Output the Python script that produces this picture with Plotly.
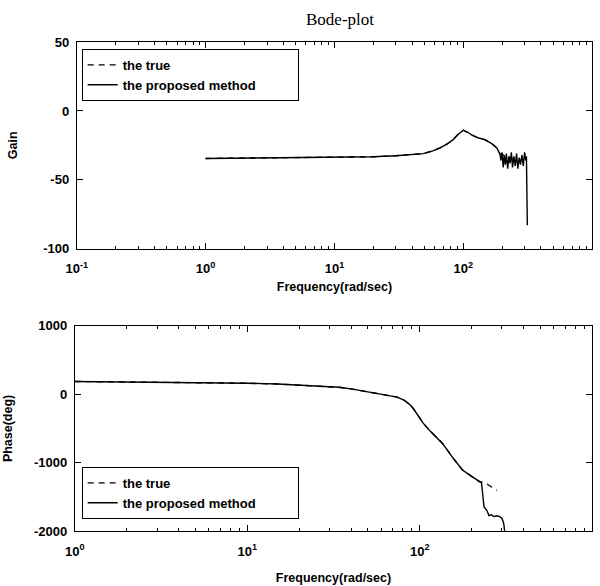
import plotly.graph_objects as go

# ---------------- data ----------------
gain_freq = [1, 2, 5, 10, 20, 30, 40, 49, 58, 66, 75, 83, 90, 100, 108, 117, 130, 148, 165, 182, 192,
             196, 200, 204, 208, 212, 216, 221, 226, 231, 236, 241, 247, 253, 259, 265, 271, 278, 285,
             292, 299, 305, 309, 312, 314]
gain_proposed = [-34.5, -34.3, -34.0, -33.8, -33.3, -32.5, -31.8, -31.0, -29.0, -26.8, -24.0, -21.0, -17.5,
                 -14.0, -15.5, -17.6, -19.5, -21.0, -23.5, -26.8, -31.0,
                 -36, -30, -41, -32, -39, -31, -42, -33, -38, -30, -41, -33, -40, -31, -42, -34, -39, -32,
                 -40, -30, -36, -33, -60, -83]
gain_true_freq = [1, 2, 5, 10, 20, 30, 40, 49, 58, 66, 75, 83, 90, 100, 108, 117, 130, 148, 165, 182, 192,
                  230, 280]
gain_true = [-34.5, -34.3, -34.0, -33.8, -33.3, -32.5, -31.8, -31.0, -29.0, -26.8, -24.0, -21.0, -17.5,
             -14.0, -15.5, -17.6, -19.5, -21.0, -23.5, -26.8, -31.0, -34.0, -36.0]

phase_freq = [1, 2, 5, 10, 15, 22, 30, 34, 40, 48, 55, 62, 74, 81, 88, 92, 98, 105, 115, 125, 136, 155,
              177, 202, 221, 228, 232, 236, 246, 252, 260, 270, 280, 291, 300, 307, 311, 313]
phase_proposed = [185, 180, 172, 160, 148, 128, 108, 100, 78, 43, 22, 2, -43, -85, -156, -213, -320, -426,
                  -539, -630, -723, -922, -1106, -1206, -1277, -1290, -1460, -1645, -1702, -1773, -1760,
                  -1785, -1775, -1787, -1810, -1887, -2000, -2050]
phase_true_freq = [1, 2, 5, 10, 15, 22, 30, 34, 40, 48, 55, 62, 74, 81, 88, 92, 98, 105, 115, 125, 136,
                   155, 177, 202, 221, 239, 262, 280]
phase_true = [185, 180, 172, 160, 148, 128, 108, 100, 78, 43, 22, 2, -43, -85, -156, -213, -320, -426,
              -539, -630, -723, -922, -1106, -1206, -1277, -1291, -1362, -1404]

top_x_ticks = [0.1, 1, 10, 100, 1000]
top_x_text = ["10<sup>-1</sup>", "10<sup>0</sup>", "10<sup>1</sup>", "10<sup>2</sup>", "10<sup>3</sup>"]
bot_x_ticks = [1, 10, 100, 1000]
bot_x_text = ["10<sup>0</sup>", "10<sup>1</sup>", "10<sup>2</sup>", "10<sup>3</sup>"]
gain_ticks = [50, 0, -50, -100]
gain_text = ["50", "0", "-50", "-100"]
phase_ticks = [1000, 0, -1000, -2000]
phase_text = ["1000", "0", "-1000", "-2000"]
legend_names = ["the true", "the proposed method"]

W, H = 600, 586
FONT = "Liberation Sans"
PAD = "\u00a0" * 10


def minor_vals(lo, hi):
    vals = []
    for e in range(lo, hi):
        for m in range(2, 10):
            vals.append(m * 10 ** e)
    return vals


fig = go.Figure()
line_w = 1.4
fig.add_trace(go.Scatter(x=gain_true_freq, y=gain_true, mode="lines", name=legend_names[0],
                         line=dict(color="black", width=line_w, dash="6px,5px"),
                         xaxis="x", yaxis="y", legend="legend"))
fig.add_trace(go.Scatter(x=gain_freq, y=gain_proposed, mode="lines", name=legend_names[1] + PAD,
                         line=dict(color="black", width=line_w),
                         xaxis="x", yaxis="y", legend="legend"))
fig.add_trace(go.Scatter(x=phase_true_freq, y=phase_true, mode="lines", name=legend_names[0],
                         line=dict(color="black", width=line_w, dash="6px,5px"),
                         xaxis="x2", yaxis="y2", legend="legend2"))
fig.add_trace(go.Scatter(x=phase_freq, y=phase_proposed, mode="lines", name=legend_names[1] + PAD,
                         line=dict(color="black", width=line_w),
                         xaxis="x2", yaxis="y2", legend="legend2"))

tickfont = dict(family=FONT, size=13, color="black", weight="bold")
titlefont = dict(family=FONT, size=12.5, color="black", weight="bold")

common_axis = dict(showgrid=False, zeroline=False, showline=True, linecolor="black", linewidth=1,
                   mirror="ticks", ticks="inside", ticklen=6, tickcolor="black", tickwidth=1,
                   tickfont=tickfont)


def px_x(a, b):
    return [a / W, b / W]


def px_y(top, bottom):
    return [1 - bottom / H, 1 - top / H]


legend_common = dict(xanchor="left", yanchor="top",
                     bordercolor="black", borderwidth=1, bgcolor="white",
                     font=dict(family=FONT, size=13, color="black", weight="bold"),
                     tracegroupgap=0, itemwidth=30)

fig.update_layout(
    width=W, height=H,
    margin=dict(l=0, r=0, t=0, b=0),
    paper_bgcolor="white", plot_bgcolor="white",
    showlegend=True,
    xaxis=dict(common_axis, type="log", range=[-1, 3], domain=px_x(67, 592), anchor="y",
               tickmode="array", tickvals=top_x_ticks, ticktext=top_x_text, ticklabelstandoff=8,
               minor=dict(ticks="inside", ticklen=3, tickcolor="black", tickvals=minor_vals(-1, 3)),
               title=dict(text="Frequency(rad/sec)", font=titlefont, standoff=6)),
    yaxis=dict(common_axis, range=[-100, 50], domain=px_y(36, 248), anchor="x",
               tickmode="array", tickvals=gain_ticks, ticktext=gain_text, ticklabelstandoff=4,
               title=dict(text="Gain", font=titlefont, standoff=22)),
    xaxis2=dict(common_axis, type="log", range=[0, 3], domain=px_x(65, 592), anchor="y2",
                tickmode="array", tickvals=bot_x_ticks, ticktext=bot_x_text, ticklabelstandoff=8,
                minor=dict(ticks="inside", ticklen=3, tickcolor="black", tickvals=minor_vals(0, 3)),
                title=dict(text="Frequency(rad/sec)", font=titlefont, standoff=15)),
    yaxis2=dict(common_axis, range=[-2000, 1000], domain=px_y(327, 538), anchor="x2",
                tickmode="array", tickvals=phase_ticks, ticktext=phase_text, ticklabelstandoff=4,
                title=dict(text="Phase(deg)", font=titlefont, standoff=18)),
    legend=dict(legend_common, x=72 / W, y=1 - 43 / H),
    legend2=dict(legend_common, x=72 / W, y=1 - 472 / H),
    annotations=[dict(text="Bode-plot", x=335 / W, y=1 - 13 / H, xref="paper", yref="paper",
                      xanchor="center", yanchor="middle", showarrow=False,
                      font=dict(family="Liberation Serif", size=17, color="black"))],
)

fig.write_html("out.html")
